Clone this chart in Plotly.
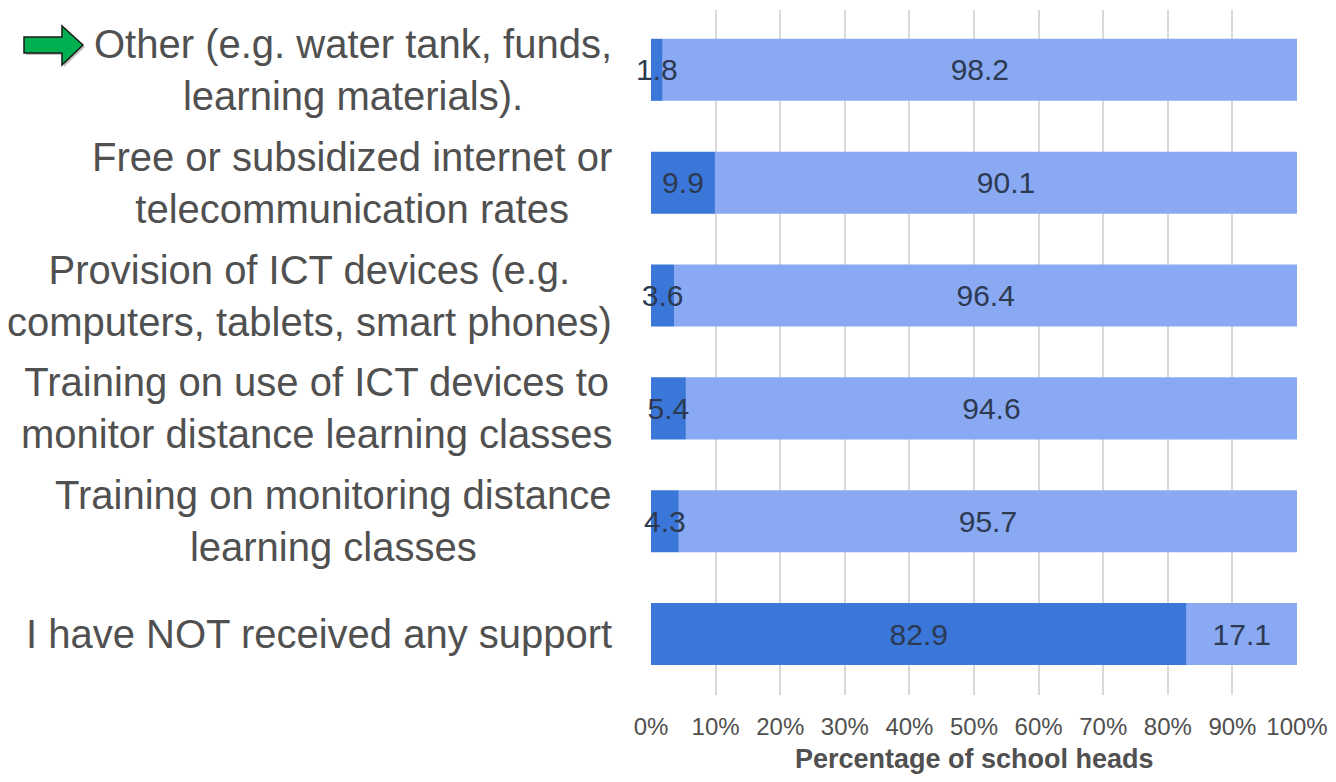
import plotly.graph_objects as go

# Categories, bottom to top
categories = [
    'I have NOT received any support',
    'Training on monitoring distance<br>learning classes',
    'Training on use of ICT devices to<br>monitor distance learning classes',
    'Provision of ICT devices (e.g.<br>computers, tablets, smart phones)',
    'Free or subsidized internet or<br>telecommunication rates',
    'Other (e.g. water tank, funds,<br>learning materials).',
]
received = [82.9, 4.3, 5.4, 3.6, 9.9, 1.8]
not_received = [17.1, 95.7, 94.6, 96.4, 90.1, 98.2]
tick_vals = [0, 10, 20, 30, 40, 50, 60, 70, 80, 90, 100]
tick_text = ['0%', '10%', '20%', '30%', '40%', '50%', '60%', '70%', '80%', '90%', '100%']

DARK = '#3b76d9'
LIGHT = '#8aa9f3'
LABEL_COLOR = '#2c3a52'
GREY = '#505050'
FONT = 'Liberation Sans, Arial'

fig = go.Figure()
# light part drawn first (starting where the dark part ends) so the dark
# part's overflowing labels stay visible on top of it
fig.add_trace(go.Bar(
    y=categories, x=not_received, base=received, orientation='h', name='No',
    marker=dict(color=LIGHT, line_width=0),
    text=[f'{v:.1f}' for v in not_received],
    textposition='inside', insidetextanchor='middle', textangle=0,
    textfont=dict(size=30, color=LABEL_COLOR, family=FONT),
))
fig.add_trace(go.Bar(
    y=categories, x=received, orientation='h', name='Yes',
    marker=dict(color=DARK, line_width=0),
    text=[f'{v:.1f}' for v in received],
    textposition='inside', insidetextanchor='middle', textangle=0,
    textfont=dict(size=30, color=LABEL_COLOR, family=FONT),
    cliponaxis=False,
))

# category labels: centred lines, right edge next to the plot
for c in categories:
    fig.add_annotation(
        x=-0.057, xref='paper', y=c, yref='y', text=c, showarrow=False,
        xanchor='right', align='center',
        font=dict(size=40, color=GREY, family=FONT),
    )

# axis title as an annotation so it can sit lower
fig.add_annotation(
    x=0.5, xref='paper', y=-0.093, yref='paper', yanchor='middle',
    text='<b>Percentage of school heads</b>', showarrow=False,
    font=dict(size=27, color=GREY, family=FONT),
)

# green arrow next to the first label (screen pixels -> paper)
def px2paper(x, y):
    return (x - 651) / 646, (695 - y) / 685

pts = [(24, 37), (62, 37), (62, 26), (83, 45), (62, 65), (62, 53), (24, 53)]
shadow = 'M ' + ' L '.join('{:.4f},{:.4f}'.format(*px2paper(x + 2, y + 2)) for x, y in pts) + ' Z'
path = 'M ' + ' L '.join('{:.4f},{:.4f}'.format(*px2paper(x, y)) for x, y in pts) + ' Z'
fig.add_shape(type='path', path=shadow, xref='paper', yref='paper',
              fillcolor='rgba(0,0,0,0.25)', line=dict(width=0))
fig.add_shape(type='path', path=path, xref='paper', yref='paper',
              fillcolor='#00b050', line=dict(color='#1a1a1a', width=1.5))

# page body has an 8px margin, so the figure is 16px smaller than the window
fig.update_layout(
    barmode='overlay', bargap=0.45, showlegend=False,
    width=1320, height=766,
    margin=dict(l=643, r=31, t=2, b=79),
    paper_bgcolor='white', plot_bgcolor='white',
    uniformtext=dict(minsize=30, mode='show'),
    font=dict(family=FONT, color=GREY),
)
fig.update_xaxes(
    range=[0, 100], tickvals=tick_vals, ticktext=tick_text,
    showgrid=True, gridcolor='#d9d9d9', gridwidth=2, zeroline=False,
    tickfont=dict(size=24, color=GREY), ticklen=0, ticklabelstandoff=15,
    ticklabeloverflow='allow', automargin=False,
)
fig.update_yaxes(showticklabels=False, range=[-0.54, 5.53], showgrid=False, automargin=False)

fig.write_html('out.html')
